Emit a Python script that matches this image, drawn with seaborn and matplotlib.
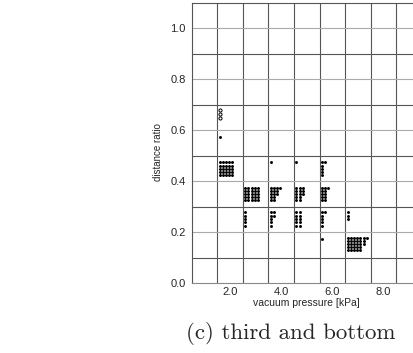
import numpy as np
import pandas as pd
import matplotlib
matplotlib.use('Agg')
import matplotlib.pyplot as plt
import seaborn as sns

# vacuum pressure of each group [kPa]
pressure = [1.6, 2.6, 3.6, 4.6, 5.6, 6.6]

# distance ratio levels per group and number of samples on each level
levels = [
    [0.576, 0.475, 0.462, 0.450, 0.438, 0.425],
    [0.375, 0.362, 0.350, 0.338, 0.325, 0.278, 0.265, 0.252, 0.239, 0.226],
    [0.475, 0.375, 0.362, 0.350, 0.338, 0.325, 0.278, 0.265, 0.252, 0.239, 0.226],
    [0.475, 0.375, 0.362, 0.350, 0.338, 0.325, 0.278, 0.265, 0.252, 0.239, 0.226],
    [0.475, 0.462, 0.450, 0.438, 0.425, 0.375, 0.362, 0.350, 0.338, 0.325,
     0.278, 0.265, 0.252, 0.239, 0.226, 0.173],
    [0.278, 0.265, 0.252, 0.178, 0.166, 0.154, 0.142, 0.130],
]
counts = [
    [1, 5, 5, 5, 5, 5],
    [5, 5, 5, 5, 5, 1, 1, 1, 1, 1],
    [1, 4, 3, 3, 2, 2, 2, 2, 1, 1, 1],
    [1, 3, 3, 3, 2, 2, 2, 2, 2, 2, 2],
    [2, 1, 1, 1, 1, 3, 2, 2, 2, 2, 2, 1, 1, 1, 1, 1],
    [1, 1, 1, 7, 6, 6, 5, 5],
]

# outliers (open markers) in the first group
outlier_pressure = [1.6, 1.6, 1.6]
outlier_ratio = [0.681, 0.664, 0.647]

# stack equal values side by side, like a dot plot
step = 0.125
rows = []
for p, lv, cn in zip(pressure, levels, counts):
    for v, n in zip(lv, cn):
        for j in range(n):
            rows.append({'pressure': p + j * step, 'ratio': v})
data = pd.DataFrame(rows)
outliers = pd.DataFrame({'pressure': outlier_pressure, 'ratio': outlier_ratio})

sns.set_style('white')
plt.rcParams['font.family'] = ['Liberation Sans', 'DejaVu Sans']

fig = plt.figure(figsize=(4.14, 3.53), dpi=100)
ax = fig.add_axes([0.4626, 0.1975, 0.5565, 0.794])

# grid: dark lines between the ticks, light lines on labelled y values
for v in np.arange(1.5, 9.5, 1.0):
    ax.axvline(v, color='#555555', lw=0.8, zorder=0)
for v in np.arange(0.1, 1.0, 0.2):
    ax.axhline(v, color='#555555', lw=0.8, zorder=0)
for v in np.arange(0.2, 1.05, 0.2):
    ax.axhline(v, color='#aaaaaa', lw=0.8, zorder=0)

sns.scatterplot(data=data, x='pressure', y='ratio', color='black', s=4.5,
                linewidth=0, marker='o', ax=ax, zorder=3)
sns.scatterplot(data=outliers, x='pressure', y='ratio', facecolor='white',
                edgecolor='black', s=5, linewidth=0.7, marker='o', ax=ax, zorder=3)

ax.set_xlim(0.5, 9.5)
ax.set_ylim(0.0, 1.1)
ax.set_xticks([2, 4, 6, 8])
ax.set_xticklabels(['2.0', '4.0', '6.0', '8.0'])
ax.set_xticks([1, 3, 5, 7, 9], minor=True)
ax.set_yticks([0.0, 0.2, 0.4, 0.6, 0.8, 1.0])
ax.set_yticklabels(['0.0', '0.2', '0.4', '0.6', '0.8', '1.0'])
ax.tick_params(axis='x', which='both', direction='in', length=2, width=0.6,
               color='#555555', labelsize=8, pad=3)
ax.tick_params(axis='y', length=0, labelsize=8, pad=4)
ax.set_xlabel('vacuum pressure [kPa]', fontsize=7.5, labelpad=0.5)
ax.set_ylabel('distance ratio', fontsize=7)
ax.yaxis.set_label_coords(-0.124, 0.468)

for s in ax.spines.values():
    s.set_color('#555555')
    s.set_linewidth(0.8)
ax.spines['bottom'].set_color('#888888')

fig.text(0.7025, 0.039, '(c) third and bottom', family='cmr10', fontsize=16.5,
         ha='center', va='baseline')

fig.savefig('out.png', dpi=100)
